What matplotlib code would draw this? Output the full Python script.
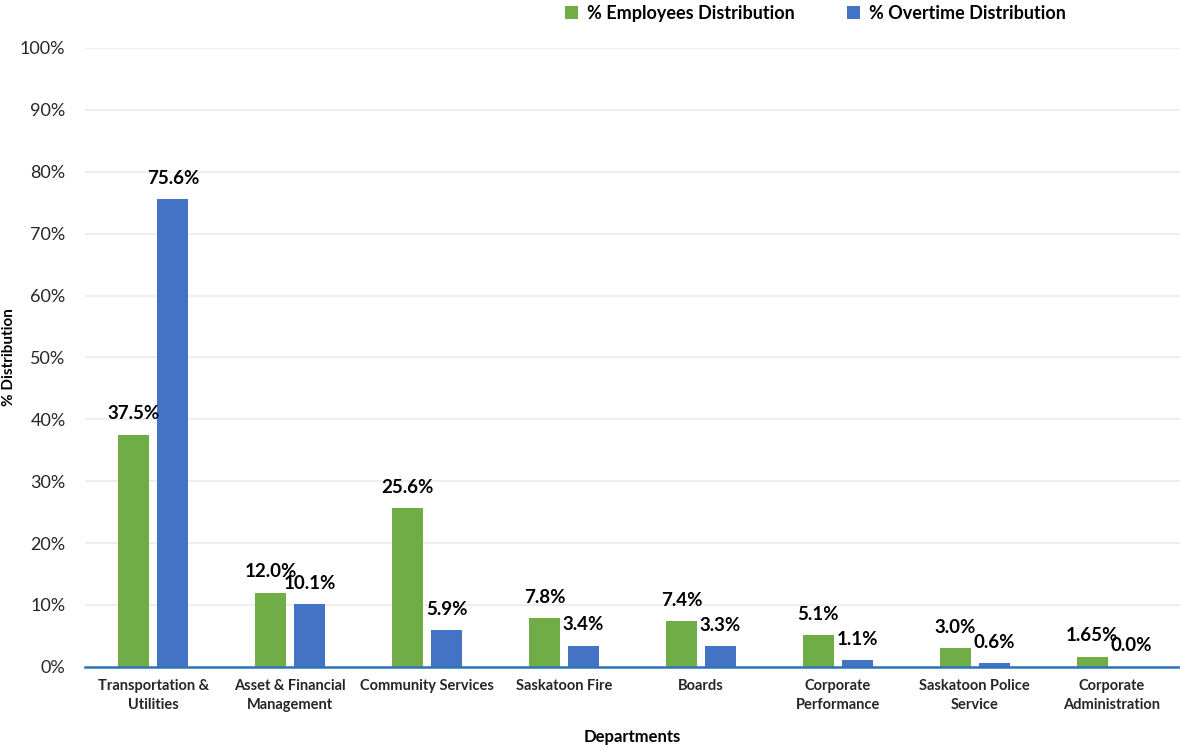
import matplotlib.pyplot as plt
import numpy as np

plt.rcParams['font.family'] = ['Lato', 'DejaVu Sans']

departments = ['Transportation &\nUtilities', 'Asset & Financial\nManagement', 'Community Services',
               'Saskatoon Fire', 'Boards', 'Corporate\nPerformance', 'Saskatoon Police\nService',
               'Corporate\nAdministration']
employees = [37.5, 12.0, 25.6, 7.8, 7.4, 5.1, 3.0, 1.65]
overtime = [75.6, 10.1, 5.9, 3.4, 3.3, 1.1, 0.6, 0.0]
emp_labels = ['37.5%', '12.0%', '25.6%', '7.8%', '7.4%', '5.1%', '3.0%', '1.65%']
ot_labels = ['75.6%', '10.1%', '5.9%', '3.4%', '3.3%', '1.1%', '0.6%', '0.0%']

green = '#70AD47'
blue = '#4472C4'

fig = plt.figure(figsize=(11.8, 7.5), dpi=100)
ax = fig.add_axes([0.072, 0.111, 0.928, 0.825])

x = np.arange(len(departments))
w = 0.226
b1 = ax.bar(x - 0.142, employees, w, color=green, label='% Employees Distribution', zorder=3)
b2 = ax.bar(x + 0.142, overtime, w, color=blue, label='% Overtime Distribution', zorder=3)

# value labels above each bar
for bars, labs in [(b1, emp_labels), (b2, ot_labels)]:
    for r, t in zip(bars, labs):
        ax.annotate(t, (r.get_x() + r.get_width() / 2, r.get_height()), xytext=(0, 15),
                    textcoords='offset points', ha='center', va='center',
                    fontsize=13.5, fontweight='bold', color='black')

ax.set_xlim(-0.5, 7.5)
ax.set_ylim(0, 100)
ax.set_yticks(np.arange(0, 101, 10))
ax.set_yticklabels([f'{v}%' for v in range(0, 101, 10)], fontsize=13, color='#262626')
ax.set_xticks(x)
ax.set_xticklabels(departments, fontsize=10.5, fontweight='bold', color='#262626', linespacing=1.45)
ax.tick_params(length=0)
ax.tick_params(axis='y', pad=14)
ax.tick_params(axis='x', pad=9)
ax.grid(axis='y', color='#EBEBEB', linewidth=1.2, zorder=0)
for s in ['top', 'right', 'left']:
    ax.spines[s].set_visible(False)
ax.spines['bottom'].set_color('#2E75B6')
ax.spines['bottom'].set_linewidth(1.8)
ax.spines['bottom'].set_zorder(4)

ax.set_xlabel('Departments', fontsize=12, fontweight='bold')
ax.xaxis.set_label_coords(0.5, -0.1)
ax.set_ylabel('% Distribution', fontsize=11, fontweight='bold')
ax.yaxis.set_label_coords(-0.063, 0.5)

fig.legend(loc='upper center', bbox_to_anchor=(0.691, 1.015), ncol=2, frameon=False,
           prop={'size': 13, 'weight': 'bold'}, handlelength=0.7, handleheight=0.7,
           handletextpad=0.5, columnspacing=2.9)

fig.savefig('out.png', dpi=100)
